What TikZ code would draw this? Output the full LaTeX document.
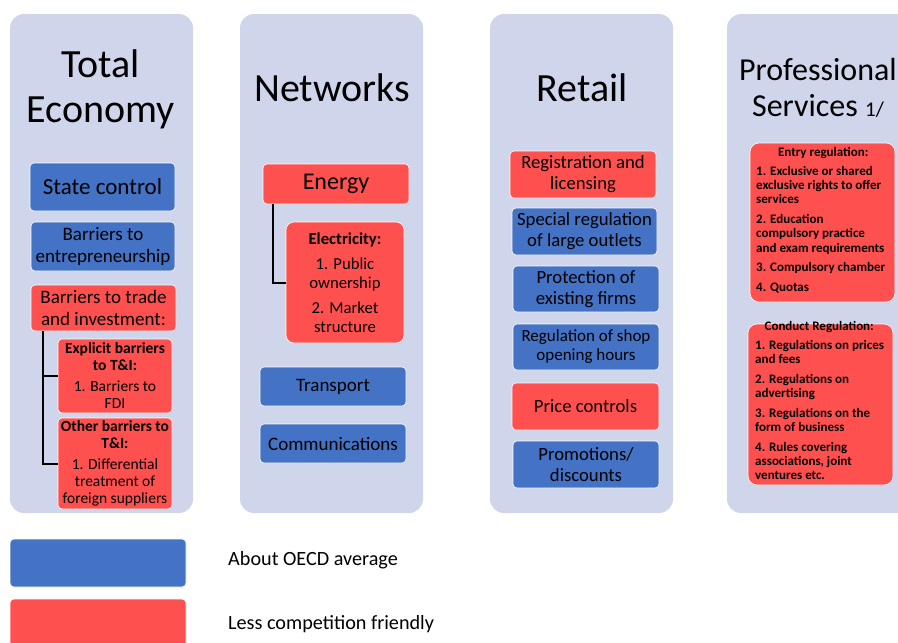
\documentclass[tikz,border=0pt]{standalone}
\usepackage{fontspec}
\setmainfont{Carlito}
\definecolor{colbg}{HTML}{CFD5EA}
\definecolor{bxblue}{HTML}{4472C4}
\definecolor{bxred}{HTML}{FF5050}
\newcommand{\fs}[2]{\fontsize{#1}{#2}\selectfont}
\tikzset{
  column/.style={fill=colbg, rounded corners=14pt},
  box/.style={rounded corners=4pt, draw=white, line width=0.6pt, align=center, inner sep=1pt},
  bluebox/.style={box, fill=bxblue},
  redbox/.style={box, fill=bxred},
  link/.style={line width=2pt, black},
  heading/.style={align=center, inner sep=0pt, font=\fs{40}{45}},
}
\begin{document}
\begin{tikzpicture}[x=1pt, y=-1pt]
\useasboundingbox (0,0) rectangle (898,643);
\clip (0,0) rectangle (898,643);

% column backgrounds
\fill[column] (10,14) rectangle (193,513);
\fill[column] (240,14) rectangle (423,513);
\fill[column] (490,14) rectangle (673,513);
\fill[column] (727,14) rectangle (930,513);

% headings
\node[heading] (h1) at (101,89) {Total\\Economy};
\node[heading] (h2) at (332,88) {Networks};
\node[heading] (h3) at (582,88) {Retail};
\node[heading, font=\fs{32}{36}] (h4) at (818,88) {Professional\\Services {\fs{21}{24}1/}};

% Total economy
\node[bluebox, minimum width=145pt, minimum height=48pt, font=\fs{23}{26}] (sc) at (102.5,187) {State control};
\node[bluebox, minimum width=144pt, minimum height=49pt, font=\fs{19}{22}] (be) at (103,246.5) {Barriers to\\entrepreneurship};
\node[redbox, minimum width=145pt, minimum height=46pt, font=\fs{19}{22}] (bt) at (103.5,308) {Barriers to trade\\and investment:};
\node[redbox, minimum width=114pt, minimum height=74pt, font=\fs{15.5}{17}] (eb) at (115,376)
  {\textbf{Explicit barriers}\\\textbf{to T\&I:}\\[4pt]1. Barriers to\\FDI};
\node[redbox, minimum width=114pt, minimum height=91pt, font=\fs{15.5}{17}] (ob) at (115,463.5)
  {\textbf{Other barriers to}\\\textbf{T\&I:}\\[4pt]1. Differential\\treatment of\\foreign suppliers};
\coordinate (t1) at (43,331);
\draw[link] (t1) |- (eb.west);
\draw[link] (t1) |- (ob.west);

% Networks
\node[redbox, minimum width=146pt, minimum height=40pt, font=\fs{24}{28}] (en) at (336,184) {Energy};
\node[redbox, minimum width=118pt, minimum height=121pt, font=\fs{16.7}{19}, rounded corners=8pt] (el) at (345,282.5)
  {\textbf{Electricity:}\\[6pt]1. Public\\ownership\\[6pt]2. Market\\structure};
\coordinate (t2) at (273,204);
\draw[link] (t2) |- (el.west);
\node[bluebox, minimum width=146pt, minimum height=39pt, font=\fs{19}{22}] (tr) at (333,386.5) {Transport};
\node[bluebox, minimum width=146pt, minimum height=39pt, font=\fs{19}{22}] (co) at (333,443.5) {Communications};

% Retail
\node[redbox, minimum width=146pt, minimum height=47pt, font=\fs{18.7}{21}] (rl) at (583,174.5) {Registration and\\licensing};
\node[bluebox, minimum width=145pt, minimum height=47pt, font=\fs{18.7}{21}] (sr) at (584.5,231.5) {Special regulation\\of large outlets};
\node[bluebox, minimum width=146pt, minimum height=46pt, font=\fs{18.7}{21}] (pe) at (586,289) {Protection of\\existing firms};
\node[bluebox, minimum width=146pt, minimum height=46pt, font=\fs{17}{19}] (ro) at (586,347) {Regulation of shop\\opening hours};
\node[redbox, minimum width=147pt, minimum height=47pt, font=\fs{18.7}{21}] (pc) at (585.5,406.5) {Price controls};
\node[bluebox, minimum width=146pt, minimum height=47pt, font=\fs{18.7}{21}] (pd) at (586,464.5) {Promotions/\\discounts};

% Professional services
\node[redbox, minimum width=145pt, minimum height=159pt, rounded corners=9pt] (er) at (822.5,222.5) {};
\node[align=left, inner sep=0pt, anchor=north west, font=\bfseries\fs{13}{14.2}] (ert) at (756,147)
  {\makebox[134pt]{Entry regulation:}\\[5pt]
   1. Exclusive or shared\\exclusive rights to offer\\services\\[5.5pt]
   2. Education\\compulsory practice\\and exam requirements\\[5.5pt]
   3. Compulsory chamber\\[5.5pt]
   4. Quotas};
\node[redbox, minimum width=145pt, minimum height=161pt, rounded corners=9pt] (cr) at (820.5,404.5) {};
\node[align=left, inner sep=0pt, anchor=north west, font=\bfseries\fs{13}{14.2}] (crt) at (755,321)
  {\makebox[128pt]{Conduct Regulation:}\\[5pt]
   1. Regulations on prices\\and fees\\[5.5pt]
   2. Regulations on\\advertising\\[5.5pt]
   3. Regulations on the\\form of business\\[5.5pt]
   4. Rules covering\\associations, joint\\ventures etc.};

% legend
\node[bluebox, minimum width=176pt, minimum height=48pt] (lb) at (98,563) {};
\node[redbox, minimum width=176pt, minimum height=48pt] (lr) at (98,623) {};
\node[anchor=west, inner sep=0pt, font=\fs{20.2}{23}] (lbt) at (228,560) {About OECD average};
\node[anchor=west, inner sep=0pt, font=\fs{20.2}{23}] (lrt) at (228,624) {Less competition friendly};
\end{tikzpicture}
\end{document}
